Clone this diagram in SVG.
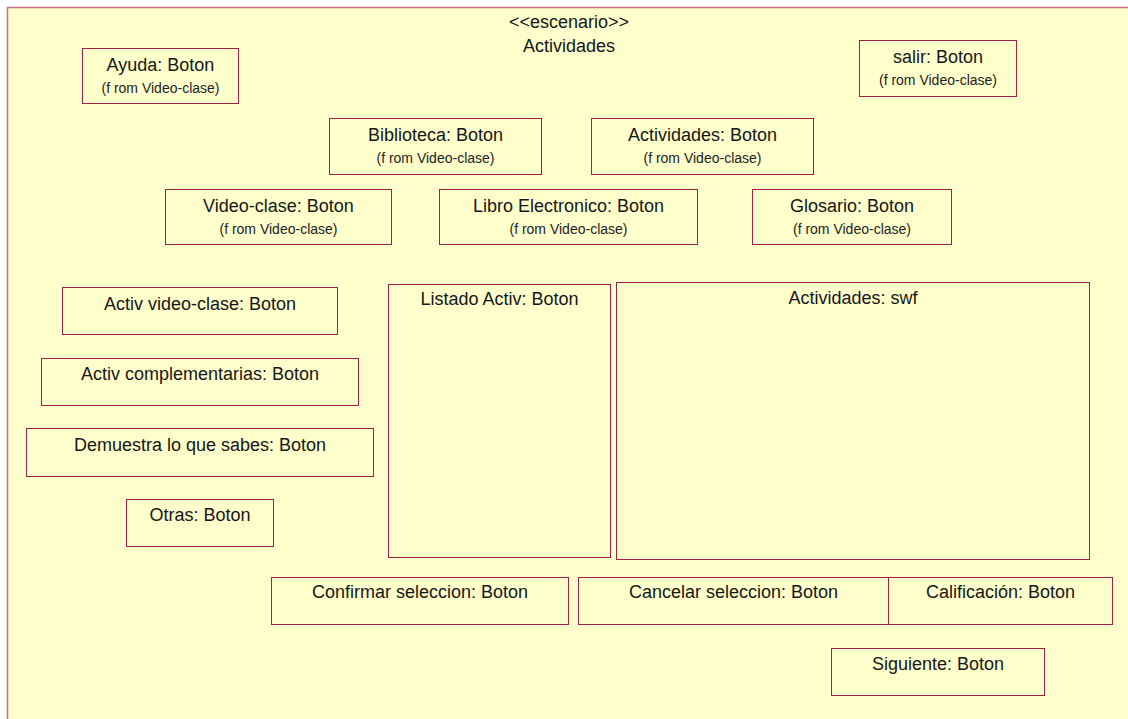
<svg xmlns="http://www.w3.org/2000/svg" width="1128" height="719" viewBox="0 0 1128 719">
  <style>
    .frame { fill: #ffffcc; stroke: #c8707f; stroke-width: 1.5; }
    .box { fill: #ffffcc; stroke: #a81c48; stroke-width: 1; }
    .t { font-family: "Liberation Sans", Arial, sans-serif; font-size: 18px; fill: #161616; text-anchor: middle; }
    .s { font-family: "Liberation Sans", Arial, sans-serif; font-size: 14px; fill: #222; text-anchor: middle; }
  </style>
  <rect width="1128" height="719" fill="#ffffff"/>

  <!-- scenario frame -->
  <g id="escenario">
    <rect class="frame" x="7.5" y="7.5" width="1130" height="720"/>
    <text class="t" x="569" y="28">&lt;&lt;escenario&gt;&gt;</text>
    <text class="t" x="569" y="52">Actividades</text>
  </g>

  <g id="ayuda">
    <rect class="box" x="82.5" y="48.5" width="156" height="55"/>
    <text class="t" x="160.5" y="71">Ayuda: Boton</text>
    <text class="s" x="160.5" y="93">(f rom Video-clase)</text>
  </g>
  <g id="salir">
    <rect class="box" x="859.5" y="40.5" width="157" height="56"/>
    <text class="t" x="938" y="63">salir: Boton</text>
    <text class="s" x="938" y="85">(f rom Video-clase)</text>
  </g>
  <g id="biblioteca">
    <rect class="box" x="329.5" y="118.5" width="212" height="56"/>
    <text class="t" x="435.5" y="141">Biblioteca: Boton</text>
    <text class="s" x="435.5" y="163">(f rom Video-clase)</text>
  </g>
  <g id="actividades-boton">
    <rect class="box" x="591.5" y="118.5" width="222" height="56"/>
    <text class="t" x="702.5" y="141">Actividades: Boton</text>
    <text class="s" x="702.5" y="163">(f rom Video-clase)</text>
  </g>
  <g id="video-clase">
    <rect class="box" x="165.5" y="189.5" width="226" height="55"/>
    <text class="t" x="278.5" y="212">Video-clase: Boton</text>
    <text class="s" x="278.5" y="234">(f rom Video-clase)</text>
  </g>
  <g id="libro">
    <rect class="box" x="439.5" y="189.5" width="258" height="55"/>
    <text class="t" x="568.5" y="212">Libro Electronico: Boton</text>
    <text class="s" x="568.5" y="234">(f rom Video-clase)</text>
  </g>
  <g id="glosario">
    <rect class="box" x="752.5" y="189.5" width="199" height="55"/>
    <text class="t" x="852" y="212">Glosario: Boton</text>
    <text class="s" x="852" y="234">(f rom Video-clase)</text>
  </g>

  <g id="activ-video-clase">
    <rect class="box" x="62.5" y="287.5" width="275" height="47"/>
    <text class="t" x="200" y="310">Activ video-clase: Boton</text>
  </g>
  <g id="activ-complementarias">
    <rect class="box" x="41.5" y="358.5" width="317" height="47"/>
    <text class="t" x="200" y="380">Activ complementarias: Boton</text>
  </g>
  <g id="demuestra">
    <rect class="box" x="26.5" y="428.5" width="347" height="48"/>
    <text class="t" x="200" y="451">Demuestra lo que sabes: Boton</text>
  </g>
  <g id="otras">
    <rect class="box" x="126.5" y="499.5" width="147" height="47"/>
    <text class="t" x="200" y="521">Otras: Boton</text>
  </g>

  <g id="listado-activ">
    <rect class="box" x="388.5" y="284.5" width="222" height="273"/>
    <text class="t" x="499.5" y="305">Listado Activ: Boton</text>
  </g>
  <g id="actividades-swf">
    <rect class="box" x="616.5" y="282.5" width="473" height="277"/>
    <text class="t" x="853" y="304">Actividades: swf</text>
  </g>

  <g id="confirmar">
    <rect class="box" x="271.5" y="577.5" width="297" height="47"/>
    <text class="t" x="420" y="598">Confirmar seleccion: Boton</text>
  </g>
  <g id="cancelar">
    <rect class="box" x="578.5" y="577.5" width="310" height="47"/>
    <text class="t" x="733.5" y="598">Cancelar seleccion: Boton</text>
  </g>
  <g id="calificacion">
    <rect class="box" x="888.5" y="577.5" width="224" height="47"/>
    <text class="t" x="1000.5" y="598">Calificación: Boton</text>
  </g>
  <g id="siguiente">
    <rect class="box" x="831.5" y="648.5" width="213" height="47"/>
    <text class="t" x="938" y="670">Siguiente: Boton</text>
  </g>

  <g id="connectors"/>
</svg>
